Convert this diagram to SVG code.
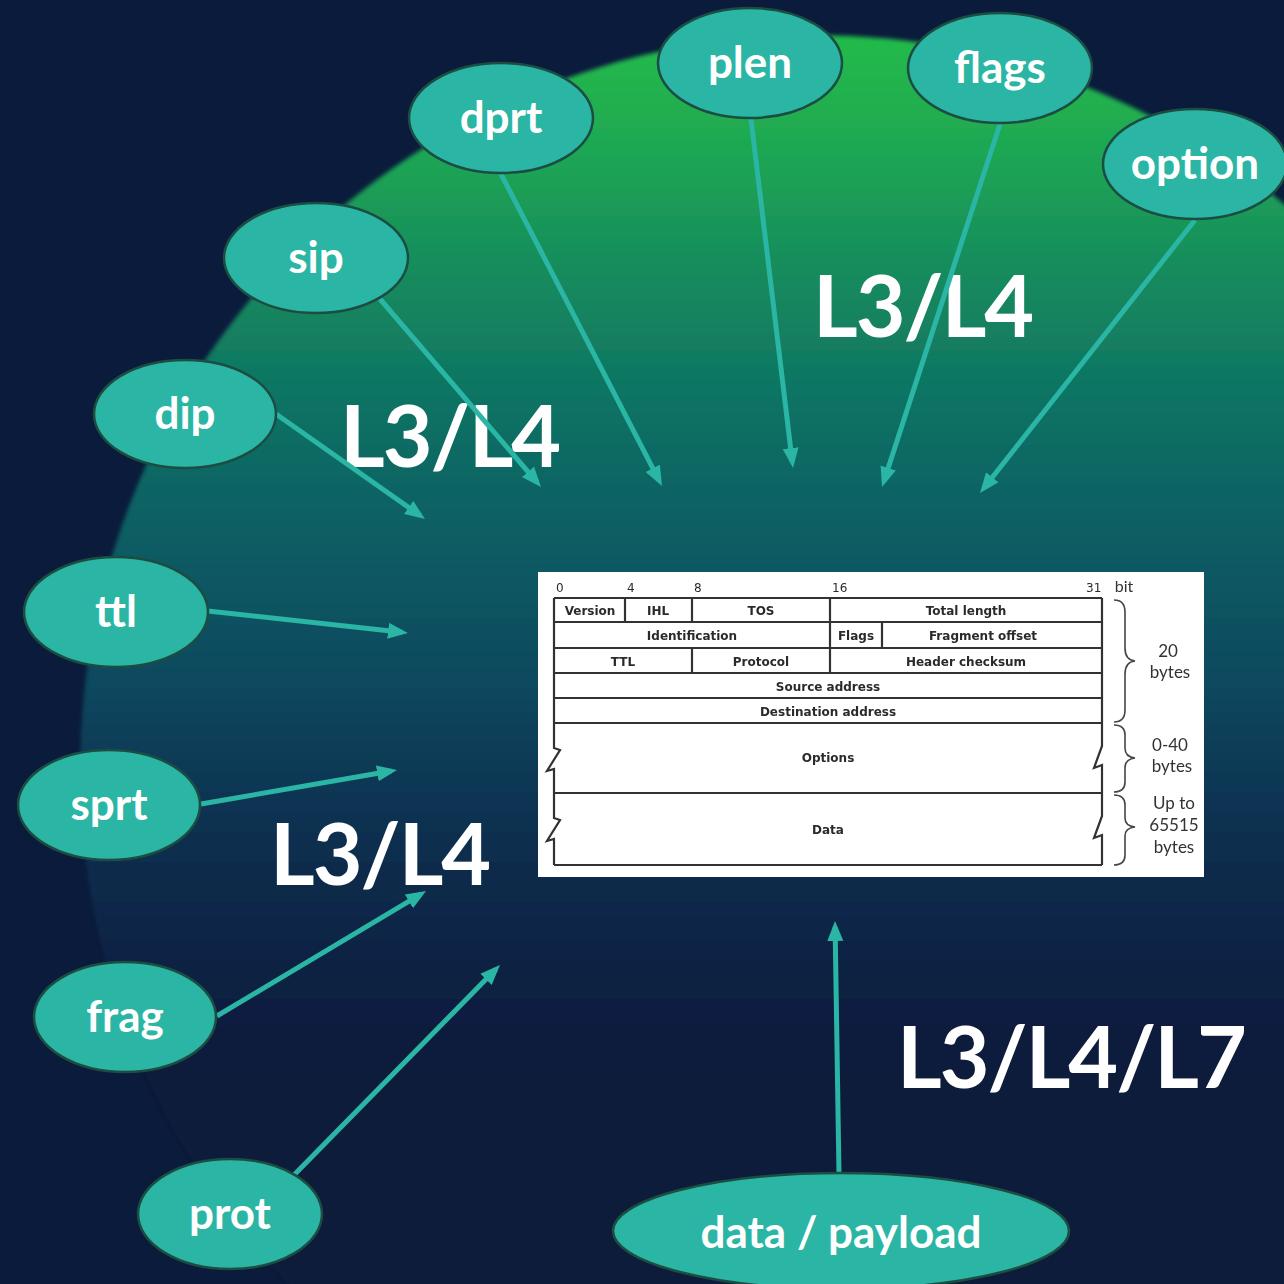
<svg xmlns="http://www.w3.org/2000/svg" width="1284" height="1284" viewBox="0 0 1284 1284">
  <defs>
    <linearGradient id="glow" gradientUnits="userSpaceOnUse" x1="0" y1="40" x2="0" y2="1080">
      <stop offset="0" stop-color="#24ba4b"/>
      <stop offset="0.1" stop-color="#1fa853"/>
      <stop offset="0.22" stop-color="#168c5d"/>
      <stop offset="0.35" stop-color="#0f7264"/>
      <stop offset="0.48" stop-color="#0b5d64"/>
      <stop offset="0.62" stop-color="#0b485e"/>
      <stop offset="0.76" stop-color="#0b3050"/>
      <stop offset="0.9" stop-color="#0b2142"/>
      <stop offset="1" stop-color="#0b1b3b"/>
    </linearGradient>
    <filter id="soft" x="-5%" y="-5%" width="110%" height="110%">
      <feGaussianBlur stdDeviation="2"/>
    </filter>
    <filter id="scan" x="-2%" y="-2%" width="104%" height="104%">
      <feGaussianBlur stdDeviation="0.5"/>
    </filter>
    <marker id="head" markerUnits="userSpaceOnUse" markerWidth="22" markerHeight="18" refX="14" refY="8" orient="auto">
      <path d="M0,0 L20,8 L0,16 Z" fill="#2ab5a4"/>
    </marker>
    <style>
      .node ellipse { fill: #2ab5a4; stroke: #1b4d42; stroke-width: 2.5; }
      .node text { font-family: Lato, "Liberation Sans", sans-serif; font-weight: 700; font-size: 44px; fill: #ffffff; text-anchor: middle; }
      .layer { font-family: Lato, "Liberation Sans", sans-serif; font-weight: 700; font-size: 86px; letter-spacing: -2px; fill: #ffffff; }
      .conn line { stroke: #2ab5a4; stroke-width: 5; marker-end: url(#head); }
      .grid { stroke: #333333; stroke-width: 2.2; fill: none; }
      .brace { stroke: #444444; stroke-width: 1.6; fill: none; }
      .cell { font-family: "DejaVu Sans", sans-serif; font-weight: 700; font-size: 12px; fill: #2b2b2b; text-anchor: middle; }
      .bits { font-family: "DejaVu Sans", sans-serif; font-size: 12px; fill: #2b2b2b; }
      .note { font-family: Lato, "Liberation Sans", sans-serif; font-size: 17px; fill: #333333; text-anchor: middle; }
    </style>
  </defs>

  <!-- backdrop -->
  <rect x="0" y="0" width="1284" height="1284" fill="#0b1b3b"/>
  <circle cx="815" cy="770" r="735" fill="url(#glow)" filter="url(#soft)"/>

  <!-- layer captions -->
  <g id="layer-labels">
    <text class="layer" x="340" y="467">L3/L4</text>
    <text class="layer" x="813" y="337">L3/L4</text>
    <text class="layer" x="270" y="885">L3/L4</text>
    <text class="layer" x="897" y="1088">L3/L4/L7</text>
  </g>

  <!-- connectors -->
  <g id="connectors" class="conn">
    <line x1="380" y1="299" x2="537.1" y2="482.4"/>
    <line x1="501" y1="174" x2="659.2" y2="480.7"/>
    <line x1="751" y1="119" x2="792.3" y2="462.0"/>
    <line x1="1000" y1="124" x2="883.9" y2="481.3"/>
    <line x1="1195" y1="220" x2="983.7" y2="488.3"/>
    <line x1="276" y1="414" x2="420.1" y2="515.5"/>
    <line x1="208" y1="611" x2="402.0" y2="632.3"/>
    <line x1="201" y1="804" x2="391.1" y2="771.0"/>
    <line x1="217" y1="1016" x2="420.9" y2="894.1"/>
    <line x1="294" y1="1175" x2="495.8" y2="969.3"/>
    <line x1="839" y1="1174" x2="835.1" y2="927"/>
  </g>

  <!-- field nodes -->
  <g id="node-plen" class="node"><ellipse cx="750" cy="63" rx="92" ry="55"/><text x="750" y="78">plen</text></g>
  <g id="node-flags" class="node"><ellipse cx="1000" cy="68" rx="92" ry="55"/><text x="1000" y="83">flags</text></g>
  <g id="node-option" class="node"><ellipse cx="1195" cy="164" rx="92" ry="55"/><text x="1195" y="179">option</text></g>
  <g id="node-dprt" class="node"><ellipse cx="501" cy="118" rx="92" ry="55"/><text x="501" y="133">dprt</text></g>
  <g id="node-sip" class="node"><ellipse cx="316" cy="258" rx="92" ry="55"/><text x="316" y="273">sip</text></g>
  <g id="node-dip" class="node"><ellipse cx="185" cy="414" rx="91" ry="54"/><text x="185" y="429">dip</text></g>
  <g id="node-ttl" class="node"><ellipse cx="116" cy="612" rx="92" ry="55"/><text x="116" y="627">ttl</text></g>
  <g id="node-sprt" class="node"><ellipse cx="109" cy="805" rx="91" ry="55"/><text x="109" y="820">sprt</text></g>
  <g id="node-frag" class="node"><ellipse cx="125" cy="1017" rx="91" ry="55"/><text x="125" y="1032">frag</text></g>
  <g id="node-prot" class="node"><ellipse cx="230" cy="1214" rx="92" ry="55"/><text x="230" y="1229">prot</text></g>
  <g id="node-data" class="node"><ellipse cx="841" cy="1231" rx="228" ry="58"/><text x="841" y="1248">data / payload</text></g>

  <!-- IPv4 header layout -->
  <g id="ip-header">
    <rect x="538" y="572" width="666" height="305" fill="#ffffff"/>
    <g filter="url(#scan)">
      <text class="bits" x="556" y="592">0</text>
      <text class="bits" x="627" y="592">4</text>
      <text class="bits" x="694" y="592">8</text>
      <text class="bits" x="832" y="592">16</text>
      <text class="bits" x="1086" y="592">31</text>
      <text class="note" x="1124" y="592" style="font-size:16px">bit</text>

      <path class="grid" d="M554,598 H1102 M554,622 H1102 M554,648 H1102 M554,673 H1102 M554,698 H1102 M554,723 H1102 M554,793 H1102 M554,865 H1102"/>
      <path class="grid" d="M554,598 V748 L560,750 L547,771 L554,769 V818 L560,820 L547,841 L554,839 V865"/>
      <path class="grid" d="M1102,598 V746 L1094,768 L1102,765 V816 L1094,838 L1102,835 V865"/>
      <path class="grid" d="M625,598 V622 M692,598 V622 M830,598 V622 M830,622 V648 M882,622 V648 M692,648 V673 M830,648 V673"/>

      <text class="cell" x="590" y="615">Version</text>
      <text class="cell" x="658" y="615">IHL</text>
      <text class="cell" x="761" y="615">TOS</text>
      <text class="cell" x="966" y="615">Total length</text>
      <text class="cell" x="692" y="640">Identification</text>
      <text class="cell" x="856" y="640">Flags</text>
      <text class="cell" x="983" y="640">Fragment offset</text>
      <text class="cell" x="623" y="666">TTL</text>
      <text class="cell" x="761" y="666">Protocol</text>
      <text class="cell" x="966" y="666">Header checksum</text>
      <text class="cell" x="828" y="691">Source address</text>
      <text class="cell" x="828" y="716">Destination address</text>
      <text class="cell" x="828" y="762">Options</text>
      <text class="cell" x="828" y="834">Data</text>

      <path class="brace" d="M1114,600 Q1125,600 1125,612 V648 Q1125,660 1135,661 Q1125,662 1125,674 V710 Q1125,722 1114,722"/>
      <path class="brace" d="M1114,725 Q1125,725 1125,735 V748 Q1125,757 1135,758 Q1125,759 1125,768 V782 Q1125,792 1114,792"/>
      <path class="brace" d="M1114,795 Q1125,795 1125,805 V818 Q1125,826 1135,827 Q1125,828 1125,836 V855 Q1125,865 1114,865"/>

      <text class="note" x="1168" y="657">20</text>
      <text class="note" x="1170" y="678">bytes</text>
      <text class="note" x="1170" y="751">0-40</text>
      <text class="note" x="1172" y="772">bytes</text>
      <text class="note" x="1174" y="809">Up to</text>
      <text class="note" x="1174" y="831">65515</text>
      <text class="note" x="1174" y="853">bytes</text>
    </g>
  </g>
</svg>
